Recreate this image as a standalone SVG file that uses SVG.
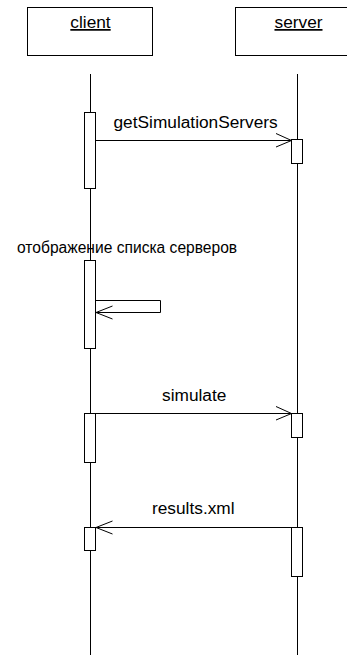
<svg xmlns="http://www.w3.org/2000/svg" width="347" height="655" viewBox="0 0 347 655">
<style>
.box{fill:#fff;stroke:#000;stroke-width:1}
.act{fill:#fff;stroke:#000;stroke-width:1}
.ln{fill:none;stroke:#000;stroke-width:1}
.hd{fill:none;stroke:#000;stroke-width:1}
text{font-family:"Liberation Sans",Arial,sans-serif;font-size:17.3px;fill:#000}
text.ru{font-size:15.6px}
</style>
<rect width="347" height="655" fill="#fff"/>
<g id="lifelines">
<line class="ln" x1="90.5" y1="74" x2="90.5" y2="655"/>
<line class="ln" x1="297.5" y1="74" x2="297.5" y2="655"/>
</g>
<g id="client">
<rect class="box" x="27.5" y="7.5" width="125" height="48"/>
<text x="90.5" y="28" text-anchor="middle" text-decoration="underline">client</text>
</g>
<g id="server">
<rect class="box" x="235.5" y="7.5" width="125" height="48"/>
<text x="298.5" y="28" text-anchor="middle" text-decoration="underline">server</text>
</g>
<g id="activations">
<rect class="act" x="84.5" y="112.5" width="11" height="76"/>
<rect class="act" x="291.5" y="139.5" width="11" height="24"/>
<rect class="act" x="84.5" y="260.5" width="11" height="88"/>
<rect class="act" x="84.5" y="413.5" width="11" height="49"/>
<rect class="act" x="291.5" y="413.5" width="11" height="24"/>
<rect class="act" x="84.5" y="527.5" width="11" height="23"/>
<rect class="act" x="291.5" y="527.5" width="11" height="49"/>
</g>
<g id="connectors">
<line class="ln" x1="95.5" y1="140.5" x2="291.5" y2="140.5"/>
<polyline class="hd" points="276,133.5 291.5,140.5 276,147"/>
<polyline class="ln" points="95.5,300.5 160.5,300.5 160.5,312.5 96,312.5"/>
<polyline class="hd" points="112.5,306 96,312.5 112.5,319"/>
<line class="ln" x1="95.5" y1="413.5" x2="291.5" y2="413.5"/>
<polyline class="hd" points="276,406.5 291.5,413.5 276,420"/>
<line class="ln" x1="291.5" y1="527.5" x2="95.5" y2="527.5"/>
<polyline class="hd" points="112.5,521 96,527.5 112.5,534"/>
</g>
<g id="labels">
<text x="113.5" y="128">getSimulationServers</text>
<text class="ru" x="17" y="253">отображение списка серверов</text>
<text x="162" y="401">simulate</text>
<text x="152" y="514">results.xml</text>
</g>
</svg>
